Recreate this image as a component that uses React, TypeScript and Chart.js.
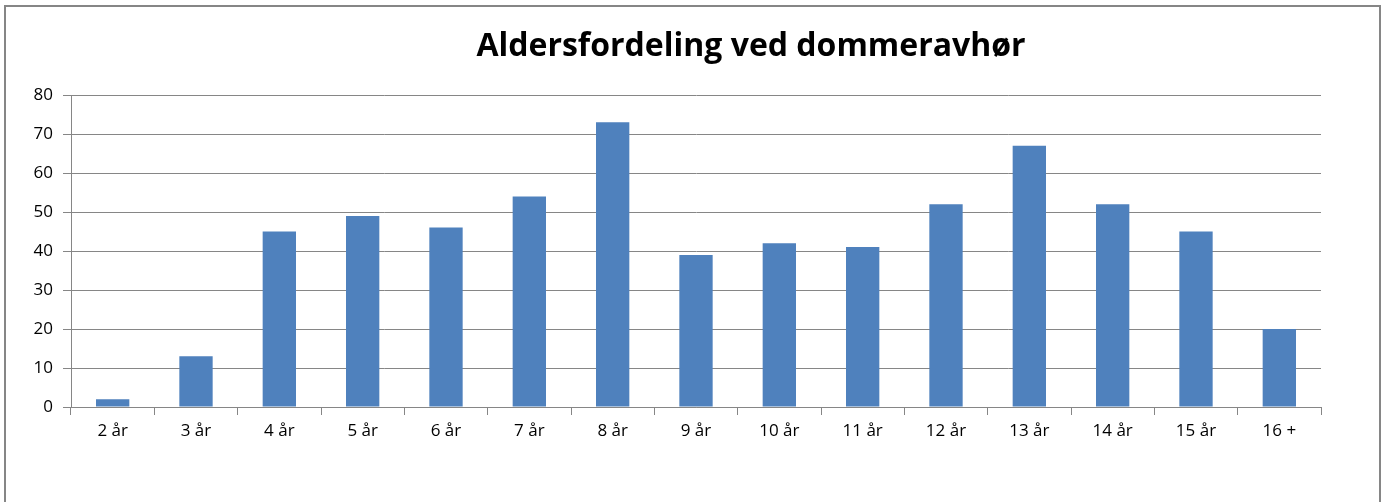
import React, { useEffect, useRef } from "react";
import { Chart, registerables } from "chart.js";

Chart.register(...registerables);

const chartTitle = "Aldersfordeling ved dommeravhør";
const categories = ["2 år", "3 år", "4 år", "5 år", "6 år", "7 år", "8 år", "9 år", "10 år", "11 år", "12 år", "13 år", "14 år", "15 år", "16 +"];
const counts = [2, 13, 45, 49, 46, 54, 73, 39, 42, 41, 52, 67, 52, 45, 20];
const yMin = 0;
const yMax = 80;
const yStep = 10;

const GRID = "#868686";
const BAR = "#4F81BD";
const FONT = "'Open Sans', 'DejaVu Sans', sans-serif";

const frameAndTitle = {
  id: "frameAndTitle",
  beforeDraw(chart: any) {
    const ctx = chart.ctx;
    ctx.save();
    ctx.fillStyle = "#ffffff";
    ctx.fillRect(0, 0, chart.width, chart.height);
    ctx.strokeStyle = GRID;
    ctx.lineWidth = 2;
    ctx.strokeRect(5, 6, 1375, 600);
    ctx.restore();
  },
  afterDraw(chart: any) {
    const ctx = chart.ctx;
    ctx.save();
    ctx.font = `bold 32px ${FONT}`;
    ctx.fillStyle = "#000000";
    ctx.textAlign = "center";
    ctx.textBaseline = "alphabetic";
    ctx.fillText(chartTitle, 751, 56);
    ctx.restore();
  },
};

export default function App() {
  const canvasRef = useRef<HTMLCanvasElement | null>(null);

  useEffect(() => {
    if (!canvasRef.current) return;
    const chart = new Chart(canvasRef.current, {
      type: "bar",
      data: {
        labels: categories,
        datasets: [
          {
            data: counts,
            backgroundColor: BAR,
            borderWidth: 0,
            categoryPercentage: 1,
            barPercentage: 0.4,
          },
        ],
      },
      options: {
        animation: false,
        responsive: false,
        maintainAspectRatio: false,
        layout: { padding: { left: 0, right: 65, top: 95, bottom: 0 } },
        plugins: {
          legend: { display: false },
          title: { display: false },
          tooltip: { enabled: false },
        },
        scales: {
          x: {
            offset: true,
            grid: {
              display: true,
              drawOnChartArea: false,
              drawTicks: true,
              tickLength: 8,
              color: GRID,
              offset: true,
            },
            border: { display: true, color: GRID, width: 1 },
            ticks: {
              color: "#000000",
              font: { family: FONT, size: 17 },
              padding: 6,
              maxRotation: 0,
              autoSkip: false,
            },
            afterFit(scale: any) {
              scale.height = 95;
            },
          },
          y: {
            min: yMin,
            max: yMax,
            grid: {
              display: true,
              drawOnChartArea: true,
              drawTicks: true,
              tickLength: 8,
              color: GRID,
            },
            border: { display: true, color: GRID, width: 1 },
            ticks: {
              stepSize: yStep,
              color: "#000000",
              font: { family: FONT, size: 17 },
              padding: 10,
            },
            afterFit(scale: any) {
              scale.width = 71;
            },
          },
        },
      },
      plugins: [frameAndTitle],
    });
    return () => chart.destroy();
  }, []);

  return (
    <div style={{ position: "absolute", left: 0, top: 0, width: 1386, height: 502, overflow: "hidden" }}>
      <canvas ref={canvasRef} width={1386} height={502} style={{ display: "block", width: 1386, height: 502 }} />
    </div>
  );
}
